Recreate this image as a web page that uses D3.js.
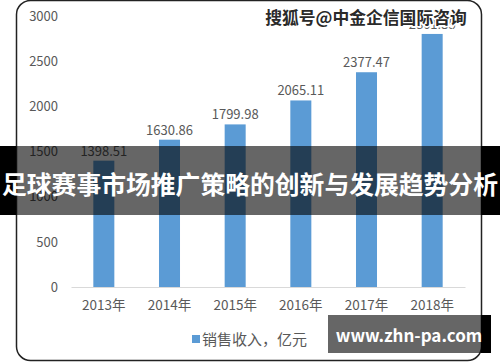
<!DOCTYPE html>
<html>
<head>
<meta charset="utf-8">
<script src="https://cdn.jsdelivr.net/npm/d3@7"></script>
<style>
  html, body { margin: 0; padding: 0; background: #fff; }
  svg { display: block; }
</style>
</head>
<body>
<svg id="chart" width="500" height="362"></svg>
<script>
// data
const years = ['2013年', '2014年', '2015年', '2016年', '2017年', '2018年'];
const sales = [1398.51, 1630.86, 1799.98, 2065.11, 2377.47, 2801.35];
const yTicks = [0, 500, 1000, 1500, 2000, 2500, 3000];
const legendLabel = '销售收入，亿元';
const titleText = '足球赛事市场推广策略的创新与发展趋势分析';
const watermark = '搜狐号@中金企信国际咨询';
const siteText = 'www.zhn-pa.com';

const width = 500;
const height = 362;
const font = '"Noto Sans CJK SC", "Liberation Sans", sans-serif';
const grey = '#595959';
const blue = '#5b9bd5';

const svg = d3.select('#chart');

// card with rounded corners
svg.append('rect')
  .attr('x', 16.5).attr('y', 0.5)
  .attr('width', 465).attr('height', 360)
  .attr('rx', 14)
  .attr('fill', '#fff')
  .attr('stroke', '#222')
  .attr('stroke-width', 1.5);

const x = d3.scaleBand()
  .domain(years)
  .range([71, 465]);

const y = d3.scaleLinear()
  .domain([0, 3000])
  .range([287, 16]);

// y axis (labels only)
const yAxis = svg.append('g')
  .attr('transform', 'translate(58,0)')
  .call(d3.axisLeft(y).tickValues(yTicks).tickSize(0).tickPadding(0).tickFormat(d3.format('d')));
yAxis.select('.domain').remove();
yAxis.selectAll('text')
  .attr('fill', grey)
  .style('font-family', font)
  .style('font-size', '13px');

// x axis
const xAxis = svg.append('g')
  .attr('transform', 'translate(0,287)')
  .call(d3.axisBottom(x).tickSize(0).tickPadding(13));
xAxis.select('.domain').attr('stroke', '#d9d9d9').attr('stroke-width', 1);
xAxis.selectAll('text')
  .attr('fill', grey)
  .style('font-family', font)
  .style('font-size', '13.5px');

// bars
const barW = x.bandwidth() * 0.32;
const data = years.map((d, i) => ({ year: d, value: sales[i] }));

svg.selectAll('rect.bar')
  .data(data)
  .enter().append('rect')
  .attr('class', 'bar')
  .attr('x', d => x(d.year) + (x.bandwidth() - barW) / 2)
  .attr('y', d => y(d.value))
  .attr('width', barW)
  .attr('height', d => y(0) - y(d.value))
  .attr('fill', blue);

// value labels
svg.selectAll('text.val')
  .data(data)
  .enter().append('text')
  .attr('class', 'val')
  .attr('x', d => x(d.year) + x.bandwidth() / 2)
  .attr('y', d => y(d.value) - 5)
  .attr('text-anchor', 'middle')
  .attr('fill', grey)
  .style('font-family', font)
  .style('font-size', '13px')
  .text(d => d.value.toFixed(2));

// legend
svg.append('rect')
  .attr('x', 192).attr('y', 335)
  .attr('width', 8).attr('height', 8)
  .attr('fill', blue);
svg.append('text')
  .attr('x', 202).attr('y', 344.5)
  .attr('fill', grey)
  .style('font-family', font)
  .style('font-size', '15px')
  .text(legendLabel);

// watermark top right
svg.append('text')
  .attr('x', 366).attr('y', 24)
  .attr('text-anchor', 'middle')
  .attr('fill', '#2a2a2a')
  .attr('stroke', '#fff')
  .attr('stroke-width', 3)
  .attr('paint-order', 'stroke')
  .style('font-family', font)
  .style('font-weight', 'bold')
  .style('font-size', '16.8px')
  .text(watermark);

// title banner
const band = svg.append('g');
band.append('rect').attr('x', 0).attr('y', 146).attr('width', 16).attr('height', 69).attr('fill', '#000');
band.append('rect').attr('x', 481).attr('y', 146).attr('width', 19).attr('height', 69).attr('fill', '#000');
band.append('rect').attr('x', 16).attr('y', 146).attr('width', 465).attr('height', 69).attr('fill', 'rgba(0,0,0,0.6)');
band.append('text')
  .attr('x', 250).attr('y', 194)
  .attr('text-anchor', 'middle')
  .attr('fill', '#fff')
  .style('font-family', font)
  .style('font-weight', 'bold')
  .style('font-size', '24.8px')
  .text(titleText);

// site box bottom right
const site = svg.append('g');
site.append('rect').attr('x', 328).attr('y', 315).attr('width', 153).attr('height', 38).attr('fill', 'rgba(0,0,0,0.6)');
site.append('rect').attr('x', 481).attr('y', 315).attr('width', 10).attr('height', 38).attr('fill', '#000');
site.append('text')
  .attr('x', 409).attr('y', 342)
  .attr('text-anchor', 'middle')
  .attr('fill', '#fff')
  .style('font-family', font)
  .style('font-weight', 'bold')
  .style('font-size', '17px')
  .text(siteText);
</script>
</body>
</html>
